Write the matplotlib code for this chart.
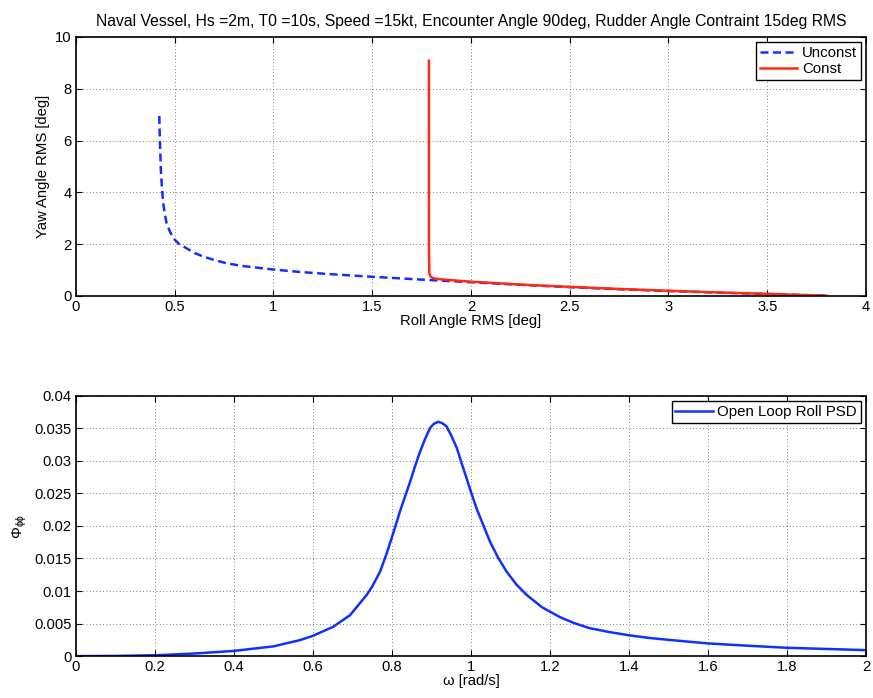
import numpy as np
import matplotlib
matplotlib.use('Agg')
from matplotlib import pyplot as plt

plt.rcParams['font.family'] = ['Liberation Sans', 'DejaVu Sans']
plt.rcParams['mathtext.fontset'] = 'custom'
plt.rcParams['mathtext.rm'] = 'Liberation Sans'
plt.rcParams['mathtext.it'] = 'Liberation Sans'

# yaw vs roll RMS trade-off curves
unconst_roll = [0.422, 0.425, 0.430, 0.436, 0.442, 0.450, 0.459, 0.475, 0.493, 0.52, 0.560, 0.60, 0.645,
                0.70, 0.763, 0.85, 1.0, 1.13, 1.27, 1.50, 1.776, 2.0, 2.25, 2.5, 2.75, 3.0, 3.25, 3.5, 3.65, 3.79]
unconst_yaw = [6.95, 6.0, 4.86, 4.1, 3.58, 3.15, 2.81, 2.5, 2.23, 2.02, 1.84, 1.66, 1.52,
               1.39, 1.26, 1.15, 1.02, 0.93, 0.85, 0.74, 0.62, 0.53, 0.43, 0.34, 0.26, 0.19, 0.13, 0.075, 0.04, 0.01]

const_roll = [1.787, 1.787, 1.789, 1.795, 1.81, 1.85, 2.0, 2.25, 2.5, 2.75, 3.0, 3.25, 3.5, 3.65, 3.80]
const_yaw = [9.08, 2.0, 0.88, 0.75, 0.68, 0.64, 0.55, 0.44, 0.35, 0.27, 0.20, 0.135, 0.08, 0.045, 0.01]

# open loop roll PSD
omega = [0.0, 0.1, 0.2, 0.3, 0.4, 0.5, 0.567, 0.599, 0.651, 0.694, 0.736, 0.75, 0.770, 0.785, 0.799,
         0.81, 0.82, 0.833, 0.846, 0.858, 0.871, 0.884, 0.896, 0.906, 0.917, 0.927, 0.938, 0.95, 0.964,
         0.976, 0.989, 1.0, 1.014, 1.03, 1.048, 1.068, 1.09, 1.115, 1.141, 1.18, 1.225, 1.26,
         1.3, 1.35, 1.4, 1.45, 1.5, 1.6, 1.7, 1.8, 1.9, 2.0]
psd = [0.0, 0.00003, 0.00013, 0.0004, 0.0008, 0.0015, 0.00246, 0.0031, 0.0045, 0.0063, 0.0094, 0.0107, 0.013, 0.0155, 0.0181,
       0.0202, 0.0222, 0.0245, 0.0268, 0.0291, 0.0314, 0.0334, 0.0350, 0.0357, 0.0360, 0.0358, 0.0353, 0.0339, 0.0320,
       0.0297, 0.0273, 0.0252, 0.0227, 0.0203, 0.0176, 0.0152, 0.0130, 0.0110, 0.0094, 0.0075, 0.0060, 0.0051,
       0.0043, 0.0037, 0.0032, 0.0028, 0.0025, 0.00195, 0.0016, 0.00128, 0.0011, 0.00092]

title = 'Naval Vessel, Hs =2m, T0 =10s, Speed =15kt, Encounter Angle 90deg, Rudder Angle Contraint 15deg RMS'


def matlab_axes(ax):
    ax.tick_params(direction='in', top=True, right=True, labelsize=10.6, length=4, width=0.8, pad=3)
    ax.grid(True, linestyle=(0, (1, 3)), color='#555555', linewidth=0.6)
    for s in ax.spines.values():
        s.set_linewidth(1.2)


fig = plt.figure(figsize=(8.73, 6.98), dpi=100)

ax1 = fig.add_axes([0.087, 0.576, 0.905, 0.371])
ax1.plot(unconst_roll, unconst_yaw, '--', color='#1030ff', linewidth=1.8, dashes=(3.2, 1.8), label='Unconst')
ax1.plot(const_roll, const_yaw, '-', color='#ff2a10', linewidth=1.8, label='Const')
ax1.set_xlim(0, 4)
ax1.set_ylim(0, 10)
ax1.set_xticks(np.arange(0, 4.01, 0.5))
ax1.set_xticklabels(['0', '0.5', '1', '1.5', '2', '2.5', '3', '3.5', '4'])
ax1.set_yticks([0, 2, 4, 6, 8, 10])
ax1.set_xlabel('Roll Angle RMS [deg]', fontsize=10.7, labelpad=0)
ax1.set_ylabel('Yaw Angle RMS [deg]', fontsize=10.7, labelpad=4)
ax1.set_title(title, fontsize=11.3, pad=8)
matlab_axes(ax1)
leg = ax1.legend(loc='upper right', fancybox=False, edgecolor='black', framealpha=1,
                 fontsize=10.8, handlelength=2.5, borderpad=0.25, labelspacing=0.15,
                 handletextpad=0.3, borderaxespad=0.35)
leg.get_frame().set_linewidth(1.0)

ax2 = fig.add_axes([0.087, 0.060, 0.905, 0.373])
ax2.plot(omega, psd, '-', color='#1030ff', linewidth=1.8, label='Open Loop Roll PSD')
ax2.set_xlim(0, 2)
ax2.set_ylim(0, 0.04)
ax2.set_xticks(np.arange(0, 2.01, 0.2))
ax2.set_xticklabels(['0', '0.2', '0.4', '0.6', '0.8', '1', '1.2', '1.4', '1.6', '1.8', '2'])
ax2.set_yticks(np.arange(0, 0.0401, 0.005))
ax2.set_yticklabels(['0', '0.005', '0.01', '0.015', '0.02', '0.025', '0.03', '0.035', '0.04'])
ax2.set_xlabel('ω [rad/s]', fontsize=10.7, labelpad=0)
ax2.set_ylabel(r'$\Phi_{\phi\phi}$', fontsize=10.7, labelpad=4)
matlab_axes(ax2)
leg2 = ax2.legend(loc='upper right', fancybox=False, edgecolor='black', framealpha=1,
                  fontsize=10.8, handlelength=2.5, borderpad=0.25, handletextpad=0.3, borderaxespad=0.35)
leg2.get_frame().set_linewidth(1.0)

fig.savefig('out.png', dpi=100)
plt.close(fig)
